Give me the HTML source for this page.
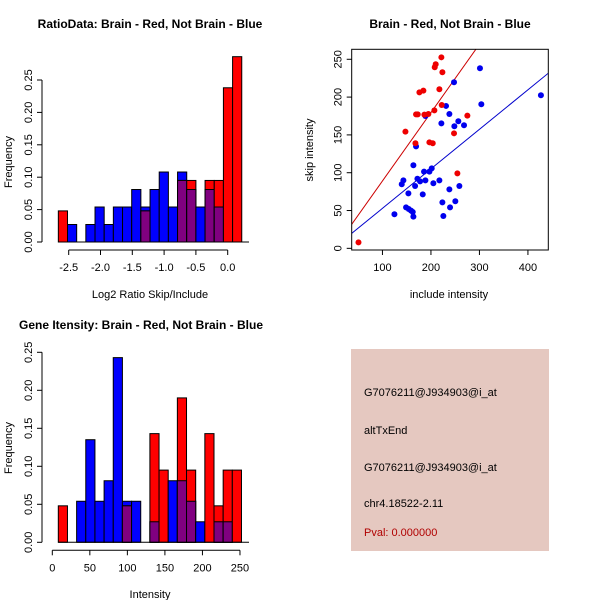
<!DOCTYPE html>
<html><head><meta charset="utf-8"><style>
html,body{margin:0;padding:0;background:#fff;}
svg{display:block;font-family:"Liberation Sans",Arial,sans-serif;}
</style></head><body>
<svg id="fig" width="600" height="600" viewBox="0 0 600 600">
<rect width="600" height="600" fill="#fff"/>
<g id="p1"></g>
<g id="p2"></g>
<g id="p3"></g>
<g id="p4">
<rect x="351" y="349" width="198" height="202" fill="#e5c8c0"/>
<text x="364" y="396" font-size="11">G7076211@J934903@i_at</text>
<text x="364" y="434" font-size="11">altTxEnd</text>
<text x="364" y="471" font-size="11">G7076211@J934903@i_at</text>
<text x="364" y="507" font-size="11">chr4.18522-2.11</text>
<text x="364" y="536" font-size="11" fill="#b00000">Pval: 0.000000</text>
</g>
</svg>
<script>
// ---- Ratio histogram data ----
const ratioStart = -2.663;
const ratioBinWidth = 0.1442;
const ratioBlue = [0,0.027,0,0.027,0.054,0.027,0.054,0.054,0.081,0.054,0.081,0.108,0.054,0.108,0.081,0.054,0.081,0.054,0,0];
const ratioRed  = [0.048,0,0,0,0,0,0,0,0,0.048,0,0,0,0.095,0.095,0,0.095,0.095,0.238,0.286];
const ratioXTicks = [-2.5,-2.0,-1.5,-1.0,-0.5,0.0];
const ratioYTicks = [0,0.05,0.10,0.15,0.20,0.25];
// ---- Intensity histogram data ----
const intStart = 8;
const intBinWidth = 12.2;
const intBlue = [0,0,0.054,0.135,0.054,0.081,0.243,0.054,0.054,0,0.027,0,0.081,0.081,0.054,0.027,0,0.027,0.027,0];
const intRed  = [0.048,0,0,0,0,0,0,0.048,0,0,0.143,0.095,0,0.190,0.095,0,0.143,0.048,0.095,0.095];
const intXTicks = [0,50,100,150,200,250];
const intYTicks = [0,0.05,0.10,0.15,0.20,0.25];
// ---- Scatter data ----
const redX = [50.6,147.4,168.0,169.3,172.8,176.2,184.4,186.5,194.7,196.8,203.7,207.1,207.8,209.8,217.4,221.5,222.2,223.6,247.6,254.5,275.1];
const redY = [7.9,154.3,138.9,177.2,177.2,206.3,208.5,176.8,177.7,140.2,138.9,182.5,239.4,243.4,210.3,252.6,189.6,232.8,152.1,99.2,175.5];
const blueX = [124.7,139.8,143.2,148.7,153.5,154.2,159.0,162.5,163.8,163.8,167.3,169.3,172.1,177.6,183.1,185.8,188.6,188.6,196.8,201.6,205.0,217.4,221.5,223.6,231.1,238.0,238.0,239.4,225.6,247.6,248.3,250.3,256.5,258.6,268.2,301.1,303.9,426.8];
const blueY = [45.0,84.7,89.9,54.2,72.7,52.0,49.8,48.1,41.9,109.8,82.4,134.9,92.1,88.6,71.4,101.4,89.9,175.0,101.4,105.8,86.0,89.9,165.3,60.8,188.3,78.0,177.7,54.2,42.8,219.6,161.4,62.2,168.0,82.4,162.7,238.1,190.5,202.4];
const redFit = [-1.3, 0.904];   // intercept, slope
const blueFit = [0.6, 0.5226];
const scXTicks = [100,200,300,400];
const scYTicks = [0,50,100,150,200,250];

const NS="http://www.w3.org/2000/svg";
function mk(parent,tag,attrs,name,text){
  const e=document.createElementNS(NS,tag);
  for(const k in attrs) e.setAttribute(k,attrs[k]);
  
  
  if(text!==undefined) e.textContent=text;
  parent.appendChild(e); return e;
}
function fmt(v,d){return v.toFixed(d);}

function histogram(g, cfg){
  const sx=v=>cfg.px0+(v-cfg.x0)*cfg.kx;
  const sy=v=>cfg.py0-v*cfg.ky;
  for(let i=0;i<cfg.blue.length;i++){
    const a=cfg.start+i*cfg.bw, b=a+cfg.bw;
    const x=sx(a), w=sx(b)-sx(a);
    const bl=cfg.blue[i], rd=cfg.red[i];
    if(bl>0) mk(g,'rect',{x:x,y:sy(bl),width:w,height:sy(0)-sy(bl),fill:'#0000ff',stroke:'#000','stroke-width':1},'blue-bar');
    if(rd>0) mk(g,'rect',{x:x,y:sy(rd),width:w,height:sy(0)-sy(rd),fill:'#ff0000',stroke:'#000','stroke-width':1},'red-bar');
    const m=Math.min(bl,rd);
    if(m>0) mk(g,'rect',{x:x,y:sy(m),width:w,height:sy(0)-sy(m),fill:'#800080',stroke:'#000','stroke-width':1},'overlap-bar');
  }
  // x axis
  const xt=cfg.xticks;
  const ay=cfg.py0+8;
  mk(g,'line',{x1:sx(xt[0]),x2:sx(xt[xt.length-1]),y1:ay,y2:ay,stroke:'#000'},'x-axis-line');
  xt.forEach(t=>{
    mk(g,'line',{x1:sx(t),x2:sx(t),y1:ay,y2:ay+5,stroke:'#000'},'x-tick');
    mk(g,'text',{x:sx(t),y:ay+21,'font-size':11,'text-anchor':'middle'},'x-tick-label',fmt(t,cfg.xdec));
  });
  // y axis
  const yt=cfg.yticks, ax=cfg.axX;
  mk(g,'line',{x1:ax,x2:ax,y1:sy(yt[0]),y2:sy(yt[yt.length-1]),stroke:'#000'},'y-axis-line');
  yt.forEach(t=>{
    mk(g,'line',{x1:ax,x2:ax-5,y1:sy(t),y2:sy(t),stroke:'#000'},'y-tick');
    mk(g,'text',{x:0,y:0,'font-size':11,'text-anchor':'middle',transform:`translate(${ax-10},${sy(t)}) rotate(-90)`},'y-tick-label',fmt(t,2));
  });
  // baseline
  mk(g,'line',{x1:sx(cfg.start),x2:cfg.baseEnd,y1:sy(0),y2:sy(0),stroke:'#000'},'baseline');
  mk(g,'text',{x:cfg.titleX,y:cfg.titleY,'font-size':12,'font-weight':'bold','text-anchor':'middle'},'chart-title',cfg.title);
  mk(g,'text',{x:cfg.xlabX,y:cfg.xlabY,'font-size':11,'text-anchor':'middle'},'x-axis-title',cfg.xlab);
  mk(g,'text',{x:0,y:0,'font-size':11,'text-anchor':'middle',transform:`translate(12,${cfg.ylabY}) rotate(-90)`},'y-axis-title','Frequency');
}

histogram(document.getElementById('p1'),{
  blue:ratioBlue,red:ratioRed,start:ratioStart,bw:ratioBinWidth,
  x0:0,px0:227.7,kx:63.6,py0:242,ky:648,xticks:ratioXTicks,yticks:ratioYTicks,xdec:1,axX:42,
  baseEnd:249,title:'RatioData: Brain - Red, Not Brain - Blue',titleX:150,titleY:28,
  xlab:'Log2 Ratio Skip/Include',xlabX:150,xlabY:298,ylabY:162
});
histogram(document.getElementById('p3'),{
  blue:intBlue,red:intRed,start:intStart,bw:intBinWidth,
  x0:0,px0:52.3,kx:0.7507,py0:542.3,ky:760,xticks:intXTicks,yticks:intYTicks,xdec:0,axX:42,
  baseEnd:249,title:'Gene Itensity: Brain - Red, Not Brain - Blue',titleX:141,titleY:329,
  xlab:'Intensity',xlabX:150,xlabY:598,ylabY:448
});

// scatter
(function(){
  const g=document.getElementById('p2');
  const L=351.7,R=548.3,T=49.3,B=250;
  const xmin=36.6,xmax=442,ymin=-2.2,ymax=263.2;
  const sx=v=>L+(v-xmin)/(xmax-xmin)*(R-L);
  const sy=v=>B-(v-ymin)/(ymax-ymin)*(B-T);
  const defs=mk(g,'clipPath',{id:'clipS'},'plot-clip');
  mk(defs,'rect',{x:L,y:T,width:R-L,height:B-T},'clip-rect');
  const clip=mk(g,'g',{'clip-path':'url(#clipS)'},'plot-area');
  [[redFit,'#cc0000','red-fit-line'],[blueFit,'#0000cc','blue-fit-line']].forEach(([f,c,n])=>{
    mk(clip,'line',{x1:sx(xmin),y1:sy(f[0]+f[1]*xmin),x2:sx(xmax),y2:sy(f[0]+f[1]*xmax),stroke:c,'stroke-width':1},n);
  });
  blueX.forEach((x,i)=>mk(clip,'circle',{cx:sx(x),cy:sy(blueY[i]),r:3,fill:'#0000ee'},'blue-point'));
  redX.forEach((x,i)=>mk(clip,'circle',{cx:sx(x),cy:sy(redY[i]),r:3,fill:'#ee0000'},'red-point'));
  mk(g,'rect',{x:L,y:T,width:R-L,height:B-T,fill:'none',stroke:'#000'},'plot-box');
  scXTicks.forEach(t=>{
    mk(g,'line',{x1:sx(t),x2:sx(t),y1:B,y2:B+5,stroke:'#000'},'x-tick');
    mk(g,'text',{x:sx(t),y:B+21,'font-size':11,'text-anchor':'middle'},'x-tick-label',String(t));
  });
  scYTicks.forEach(t=>{
    mk(g,'line',{x1:L,x2:L-5,y1:sy(t),y2:sy(t),stroke:'#000'},'y-tick');
    mk(g,'text',{x:0,y:0,'font-size':11,'text-anchor':'middle',transform:`translate(${L-10},${sy(t)}) rotate(-90)`},'y-tick-label',String(t));
  });
  mk(g,'text',{x:450,y:28,'font-size':12,'font-weight':'bold','text-anchor':'middle'},'chart-title','Brain - Red, Not Brain - Blue');
  mk(g,'text',{x:449,y:298,'font-size':11,'text-anchor':'middle'},'x-axis-title','include intensity');
  mk(g,'text',{x:0,y:0,'font-size':11,'text-anchor':'middle',transform:`translate(313,150) rotate(-90)`},'y-axis-title','skip intensity');
})();
</script>
</body></html>
